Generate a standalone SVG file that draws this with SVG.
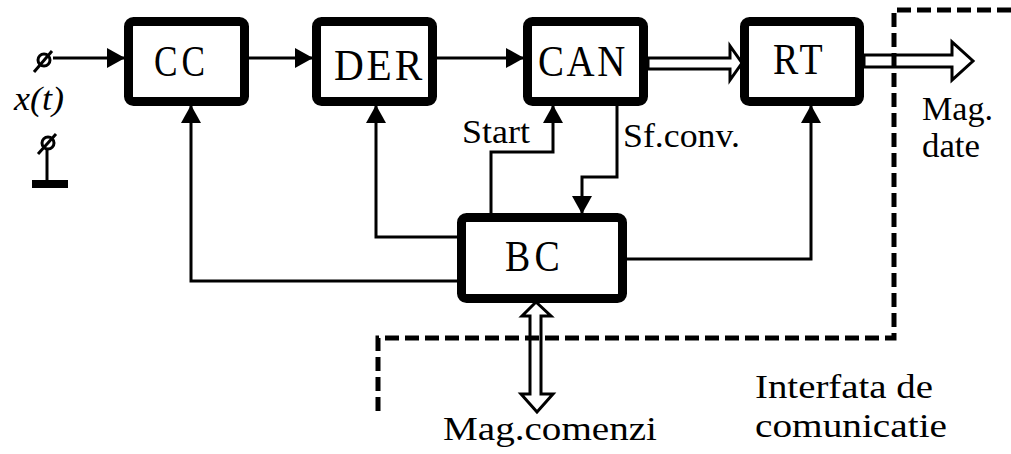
<svg xmlns="http://www.w3.org/2000/svg" width="1011" height="454" viewBox="0 0 1011 454">
<style>
.box{fill:#fff;stroke:#000;stroke-width:9}
.bt{font-family:"Liberation Serif","Times New Roman",serif;font-size:44px;fill:#000}
.ln{fill:none;stroke:#000;stroke-width:3}
.dbl{fill:#fff;stroke:#000;stroke-width:3;stroke-linejoin:miter}
.lbl{font-family:"Liberation Serif","Times New Roman",serif;font-size:34px;fill:#000}
.dash{fill:none;stroke:#000;stroke-width:5;stroke-dasharray:14 6}
</style>
<defs>
<marker id="ah" viewBox="0 0 18 20" refX="17" refY="10" markerWidth="18" markerHeight="20" markerUnits="userSpaceOnUse" orient="auto">
<path d="M0,0 L18,10 L0,20 z" fill="#000"/>
</marker>
</defs>
<rect width="1011" height="454" fill="#fff"/>
<g id="connectors">
<path class="ln" d="M53,58 H124" marker-end="url(#ah)"/>
<path class="ln" d="M249,58 H312" marker-end="url(#ah)"/>
<path class="ln" d="M437,58 H523" marker-end="url(#ah)"/>
<path class="ln" d="M491,213 V152 H553 V106" marker-end="url(#ah)"/>
<path class="ln" d="M617,106 V177 H582 V213" marker-end="url(#ah)"/>
<path class="ln" d="M457,237 H376 V106" marker-end="url(#ah)"/>
<path class="ln" d="M457,281 H191 V106" marker-end="url(#ah)"/>
<path class="ln" d="M627,259 H811 V106" marker-end="url(#ah)"/>
<polygon class="dbl" points="648,58 730,58 730,46 742,63 730,80 730,69 648,69"/>
<polygon class="dbl" points="864,55 952,55 952,42 973,61 952,80 952,67 864,67"/>
<polygon class="dbl" points="530,316 522,316 536,302 551,316 541,316 541,394 553,394 537,412 521,394 530,394"/>
</g>
<g id="input-terminal">
<circle cx="44" cy="60" r="6" fill="none" stroke="#000" stroke-width="3"/>
<line x1="34" y1="72" x2="52" y2="51" stroke="#000" stroke-width="3"/>
<circle cx="48" cy="143" r="6" fill="none" stroke="#000" stroke-width="3"/>
<line x1="38" y1="154" x2="56" y2="134" stroke="#000" stroke-width="3"/>
<line x1="47" y1="149" x2="47" y2="181" stroke="#000" stroke-width="3"/>
<rect x="32" y="180" width="36" height="8" fill="#000"/>
<text class="lbl" x="14" y="110" font-style="italic" textLength="50" lengthAdjust="spacingAndGlyphs">x(t)</text>
</g>
<g id="CC">
<rect class="box" x="128.5" y="21.5" width="116" height="80" rx="5"/>
<text class="bt" x="154" y="76" letter-spacing="5" textLength="55" lengthAdjust="spacingAndGlyphs">CC</text>
</g>
<g id="DER">
<rect class="box" x="316.5" y="21.5" width="116" height="80" rx="5"/>
<text class="bt" x="334" y="80" letter-spacing="3" textLength="91" lengthAdjust="spacingAndGlyphs">DER</text>
</g>
<g id="CAN">
<rect class="box" x="527.5" y="21.5" width="116" height="80" rx="5"/>
<text class="bt" x="538" y="76" letter-spacing="3" textLength="90" lengthAdjust="spacingAndGlyphs">CAN</text>
</g>
<g id="RT">
<rect class="box" x="744.5" y="21.5" width="115" height="80" rx="5"/>
<text class="bt" x="773" y="74" letter-spacing="4" textLength="53" lengthAdjust="spacingAndGlyphs">RT</text>
</g>
<g id="BC">
<rect class="box" x="461.5" y="217.5" width="161" height="81" rx="5"/>
<text class="bt" x="505" y="271" letter-spacing="5" textLength="59" lengthAdjust="spacingAndGlyphs">BC</text>
</g>
<g id="labels">
<text class="lbl" x="462" y="143" textLength="68" lengthAdjust="spacingAndGlyphs">Start</text>
<text class="lbl" x="623" y="147" textLength="117" lengthAdjust="spacingAndGlyphs">Sf.conv.</text>
<text class="lbl" x="922" y="120" textLength="71" lengthAdjust="spacingAndGlyphs">Mag.</text>
<text class="lbl" x="922" y="157" textLength="58" lengthAdjust="spacingAndGlyphs">date</text>
<text class="lbl" x="443" y="440" textLength="214" lengthAdjust="spacingAndGlyphs">Mag.comenzi</text>
<text class="lbl" x="755" y="398" textLength="178" lengthAdjust="spacingAndGlyphs">Interfata de</text>
<text class="lbl" x="755" y="437" textLength="192" lengthAdjust="spacingAndGlyphs">comunicatie</text>
</g>
<g id="interface-boundary">
<path class="dash" d="M1011,10 H894 V338 H378 V412"/>
</g>
</svg>
